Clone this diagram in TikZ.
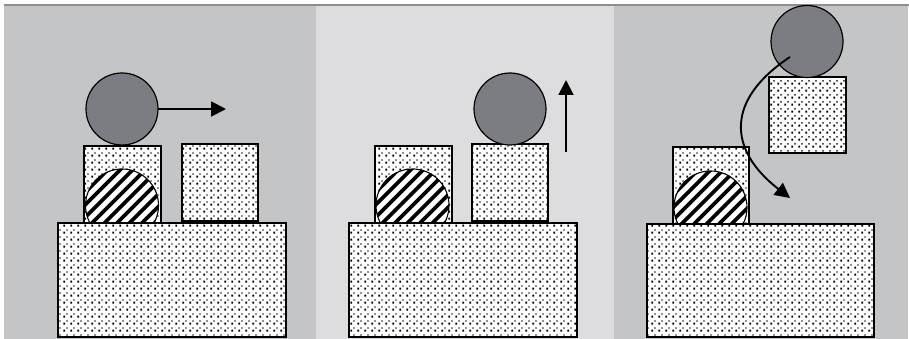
\documentclass[tikz,border=0pt]{standalone}
\usetikzlibrary{patterns.meta,arrows.meta}
\definecolor{bgdark}{HTML}{C4C5C7}
\definecolor{bglight}{HTML}{DDDDE0}
\definecolor{ballgray}{HTML}{7C7D82}
\definecolor{topline}{HTML}{8E8E8E}
\tikzdeclarepattern{
  name=mydots,
  type=uncolored,
  bounding box={(0pt,0pt) and (7pt,6.6pt)},
  tile size={(7pt,6.6pt)},
  code={
    \fill (0.3pt,0.3pt) rectangle (2.5pt,2.5pt);
    \fill (3.8pt,3.6pt) rectangle (5.2pt,5.0pt);
  }
}
\tikzset{
  dotbox/.style={draw=black,line width=1.8pt,preaction={fill=white},pattern={mydots},pattern color=black},
  ball/.style={draw=black,line width=1.2pt,fill=ballgray},
  hatchrim/.style={draw=black,line width=1.1pt},
  hatchline/.style={line width=3.6pt,black},
  motion/.style={line width=1.9pt,-{Triangle[length=15pt,width=15pt]}}
}
\newcommand\hatchball[3]{%
  \fill[white] (#1,#2) circle (#3);
  \begin{scope}
    \clip (#1,#2) circle (#3);
    \foreach \i in {-8,...,8}{
      \draw[hatchline] (#1+\i*12.5-50,#2+50) -- ++(100,-100);
    }
  \end{scope}
  \draw[hatchrim] (#1,#2) circle (#3);
}
\begin{document}
\begin{tikzpicture}[x=1pt,y=-1pt]
\useasboundingbox (0,0) rectangle (909,339);
\fill[white] (0,0) rectangle (909,339);
% backgrounds
\fill[bgdark] (4,6) rectangle (316,339);
\fill[bglight] (316,6) rectangle (614,339);
\fill[bgdark] (614,6) rectangle (908,339);
\fill[topline] (4,4) rectangle (909,6.2);

% ---------- panel 1 ----------
\draw[dotbox] (84,146) rectangle (161,223);
\hatchball{122}{205.5}{36.5}
\draw[dotbox] (182,144) rectangle (258,221);
\draw[dotbox] (58,223) rectangle (286,337);
\draw[ball] (122,109) circle (36);
\coordinate (a1s) at (158,109);
\coordinate (a1e) at (226,109);
\draw[motion] (a1s) -- (a1e);

% ---------- panel 2 ----------
\draw[dotbox] (375,146) rectangle (452,223);
\hatchball{412.5}{205.5}{36.5}
\draw[dotbox] (472,144) rectangle (548,221);
\draw[dotbox] (349,223) rectangle (577,337);
\draw[ball] (510,109) circle (36);
\coordinate (a2s) at (566,152);
\coordinate (a2e) at (566,80);
\draw[motion] (a2s) -- (a2e);

% ---------- panel 3 ----------
\draw[dotbox] (673,147) rectangle (749,224);
\hatchball{710.5}{207.5}{36.5}
\draw[dotbox] (647,224) rectangle (874,337);
\draw[dotbox] (769,77) rectangle (846,153);
\draw[ball] (807,41.5) circle (36);
\coordinate (a3s) at (790,57);
\coordinate (a3e) at (790,198);
\draw[motion] (a3s) .. controls (725,100) and (728,150) .. (a3e);
\end{tikzpicture}
\end{document}
